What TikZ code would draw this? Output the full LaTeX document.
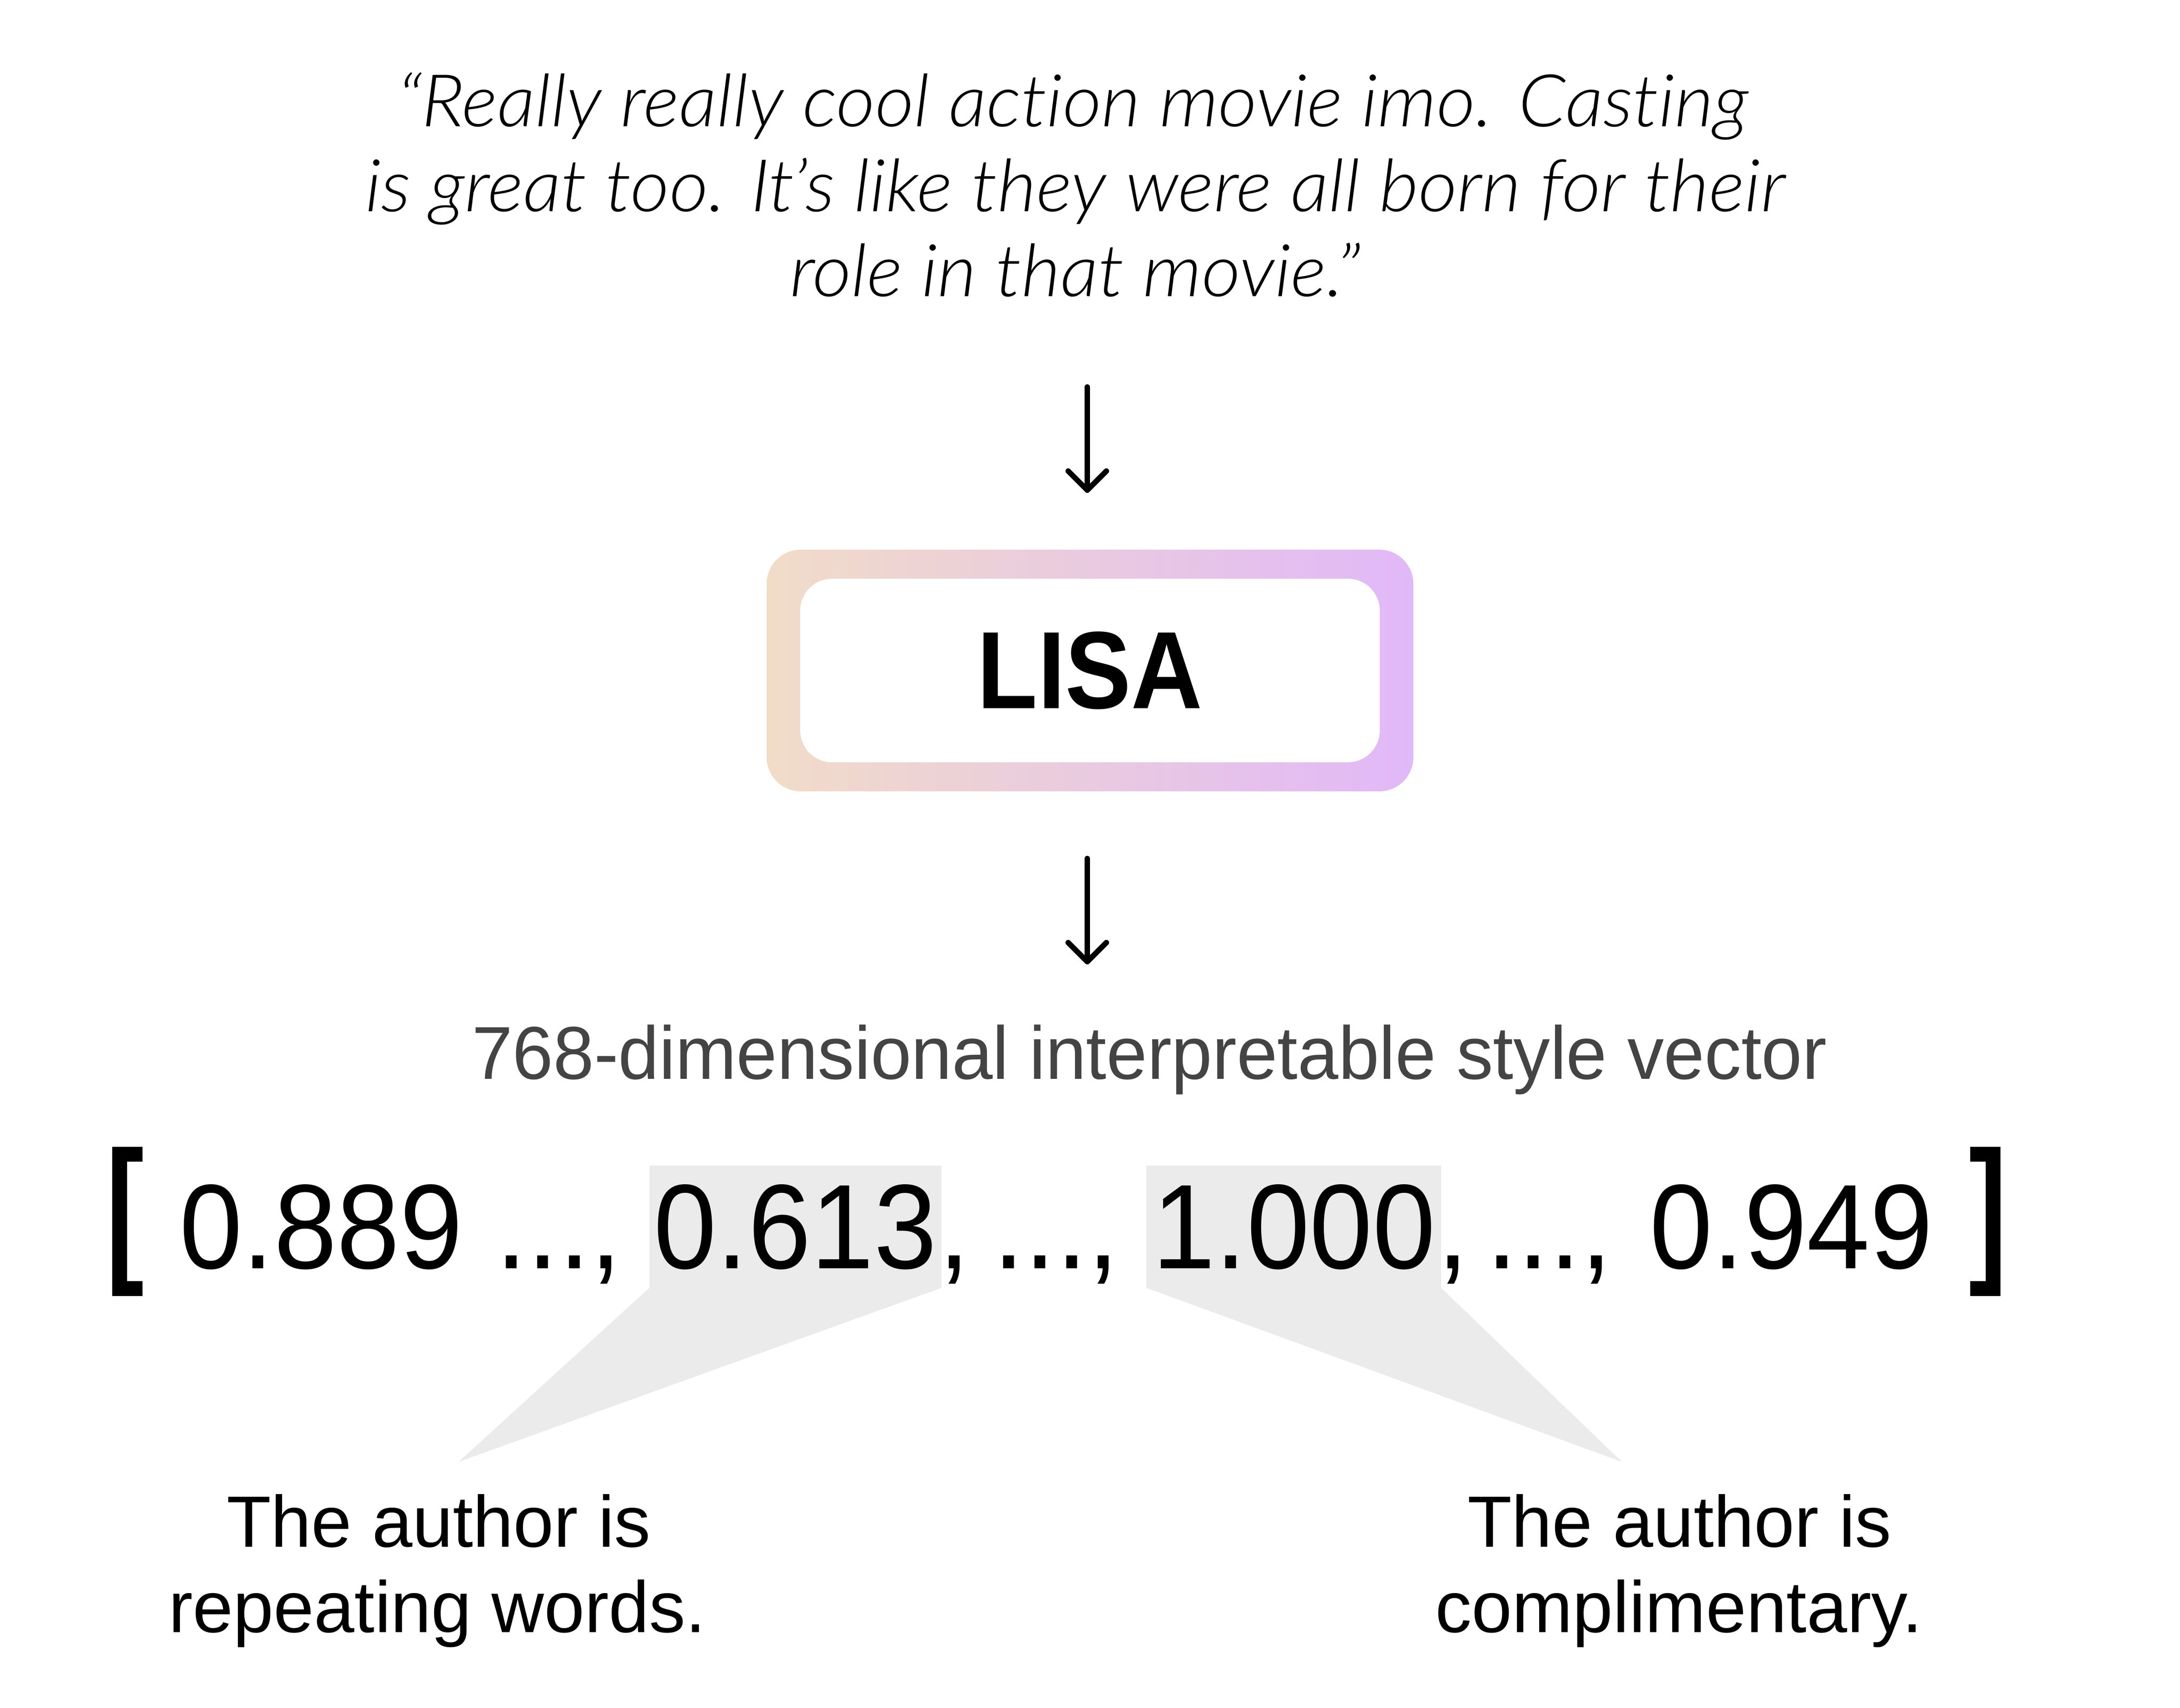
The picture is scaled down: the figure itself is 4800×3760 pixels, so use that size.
\documentclass[tikz,border=0pt]{standalone}
\usepackage{fontspec}
\setmainfont{Liberation Sans}
\newfontfamily\quotefont{Lato Light Italic}[FakeStretch=1.04, Ligatures=NoCommon]
\newfontfamily\vecfont{Liberation Sans}[FakeStretch=0.94]
\newfontfamily\subfont{Liberation Sans}[FakeStretch=0.977]
\newfontfamily\lisafont{Liberation Sans}[FakeStretch=0.9]
\usetikzlibrary{arrows.meta}
\definecolor{peach}{HTML}{F1DCC8}
\definecolor{lav}{HTML}{E1B8F8}
\definecolor{hlgray}{HTML}{EBEBEB}
\definecolor{subgray}{HTML}{444444}
\begin{document}
\begin{tikzpicture}[x=0.1pt,y=-0.1pt,
  quoteline/.style={anchor=base, inner sep=0pt, font={\quotefont\fontsize{16pt}{18.8pt}\selectfont}},
  arr/.style={line width=1.2pt, line cap=round, -{Straight Barb[length=4.2pt,width=8.4pt,round]}},
  frame/.style={draw=none, inner sep=0pt, minimum width=142.4pt, minimum height=53.2pt, rounded corners=7.5pt, left color=peach, right color=lav},
  lisabox/.style={fill=white, draw=none, inner sep=0pt, minimum width=127.6pt, minimum height=40.4pt, rounded corners=7pt, font={\lisafont\bfseries\fontsize{24.2pt}{28pt}\selectfont}},
  subtitle/.style={anchor=base, inner sep=0pt, text=subgray, font={\subfont\fontsize{16.5pt}{20pt}\selectfont}},
  vec/.style={anchor=base, inner sep=0pt, font={\vecfont\fontsize{26.5pt}{30pt}\selectfont}},
  brack/.style={anchor=north west, inner sep=0pt, font={\bfseries\fontsize{26.5pt}{30pt}\selectfont}},
  hl/.style={fill=hlgray, draw=none},
  note/.style={anchor=base, inner sep=0pt, font={\fontsize{16pt}{19pt}\selectfont}}
]
\useasboundingbox[fill=white] (0,0) rectangle (4800,3760);

% quote
\node[quoteline] (q1) at (2362,278) {“Really really cool action movie imo. Casting};
\node[quoteline] (q2) at (2367,465) {is great too. It’s like they were all born for their};
\node[quoteline] (q3) at (2367,652) {role in that movie.”};

% LISA box
\node[frame] (lisaframe) at (2400,1476) {};
\node[lisabox] (lisa) at (2400,1476) {LISA};

% arrows
\coordinate (a1s) at (2394,852);
\coordinate (a1e) at (2394,1085);
\coordinate (a2s) at (2394,1890);
\coordinate (a2e) at (2394,2123);
\draw[arr] (a1s) -- (a1e);
\draw[arr] (a2s) -- (a2e);

% subtitle
\node[subtitle] (sub) at (2531,2375) {768-dimensional interpretable style vector};

% highlights
\fill[hl] (1430,2566) -- (2073,2566) -- (2073,2835) -- (1010,3218) -- (1430,2835) -- cycle;
\fill[hl] (2524,2566) -- (3173,2566) -- (3173,2835) -- (3571,3218) -- (2524,2835) -- cycle;

% vector
\node[brack] (lb) at (231,2523) {\scalebox{0.95}[1.33]{[}};
\node[brack] (rb) at (4333,2523) {\scalebox{0.95}[1.33]{]}};
\node[vec] (v1) at (707,2792) {0.889};
\node[vec] (e1) at (1230,2792) {...,};
\node[vec] (v2) at (1751,2792) {0.613};
\node[vec, anchor=base west] (c2) at (v2.base east) {,};
\node[vec] (e2) at (2325,2792) {...,};
\node[vec] (v3) at (2849,2792) {1.000};
\node[vec, anchor=base west] (c3) at (v3.base east) {,};
\node[vec] (e3) at (3411,2792) {...,};
\node[vec] (v4) at (3944,2792) {0.949};

% notes
\node[note] (n1a) at (966,3405) {The author is};
\node[note] (n1b) at (963,3593) {repeating words.};
\node[note] (n2a) at (3698,3405) {The author is};
\node[note] (n2b) at (3697,3593) {complimentary.};
\end{tikzpicture}
\end{document}
